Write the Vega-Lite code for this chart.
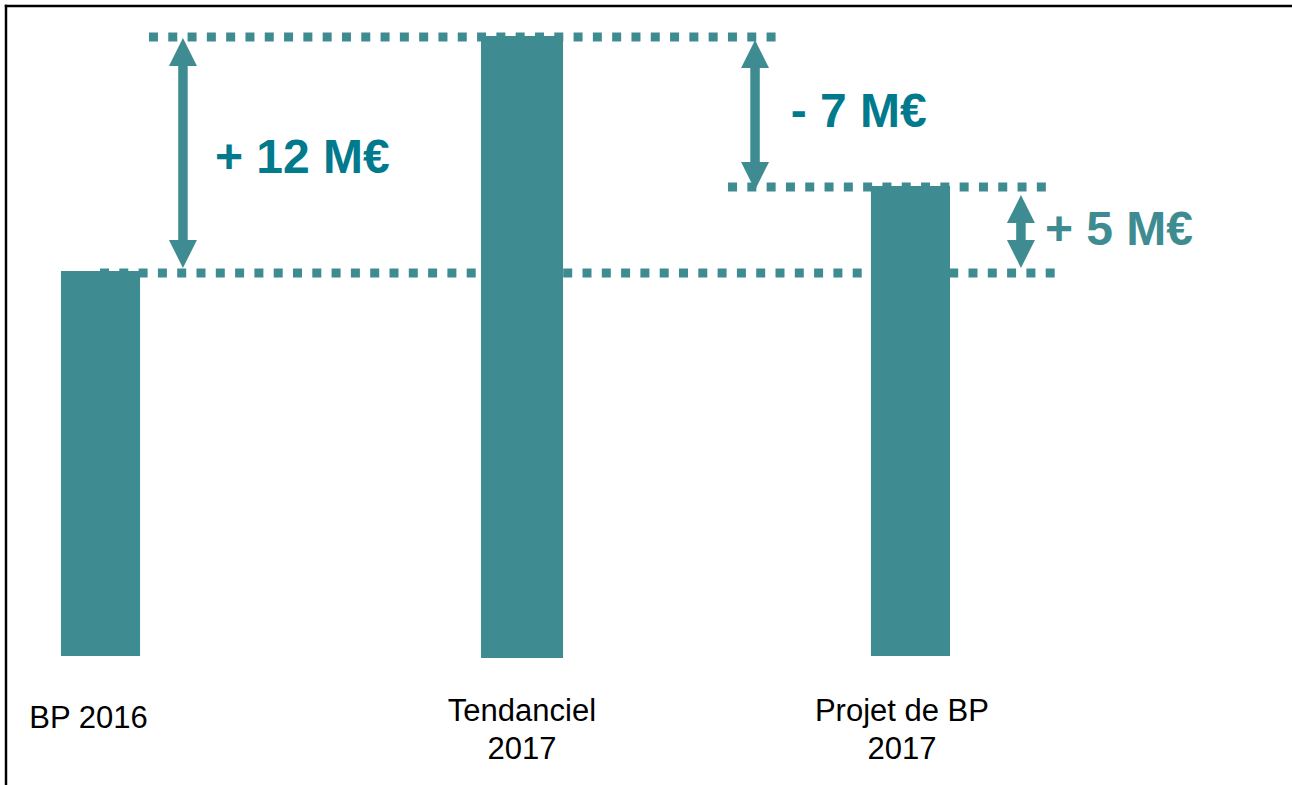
{
  "$schema": "https://vega.github.io/schema/vega-lite/v6.json",
  "autosize": {"type": "fit", "contains": "padding"},
  "width": 1292,
  "height": 785,
  "padding": 0,
  "background": "white",
  "config": {"view": {"stroke": null}},
  "datasets": {
    "bars": [
      {"label": "BP 2016", "x": 4.72, "x2": 10.84, "value": 19.25, "base": 0},
      {"label": "Tendanciel 2017", "x": 37.23, "x2": 43.58, "value": 31.0, "base": -0.1},
      {"label": "Projet de BP 2017", "x": 67.41, "x2": 73.53, "value": 23.5, "base": 0}
    ],
    "levels": [
      {"level": "Tendanciel 2017", "x": 11.53, "x2": 60.53, "y": 30.95},
      {"level": "Projet de BP 2017", "x": 56.35, "x2": 81.27, "y": 23.45},
      {"level": "BP 2016", "x": 7.74, "x2": 81.66, "y": 19.15}
    ],
    "shafts": [
      {"delta": "+12", "x": 14.16, "top": 30.2, "bottom": 20.1},
      {"delta": "-7", "x": 58.44, "top": 30.1, "bottom": 24.0},
      {"delta": "+5", "x": 79.02, "top": 22.35, "bottom": 20.1}
    ],
    "heads": [
      {"delta": "+12", "x": 14.16, "y": 30.2, "dir": "up"},
      {"delta": "+12", "x": 14.16, "y": 20.1, "dir": "down"},
      {"delta": "-7", "x": 58.44, "y": 30.1, "dir": "up"},
      {"delta": "-7", "x": 58.44, "y": 24.0, "dir": "down"},
      {"delta": "+5", "x": 79.02, "y": 22.35, "dir": "up"},
      {"delta": "+5", "x": 79.02, "y": 20.1, "dir": "down"}
    ],
    "deltas": [
      {"text": "+ 12 M€", "kind": "step", "x": 16.64, "y": 24.15},
      {"text": "- 7 M€", "kind": "step", "x": 61.2, "y": 26.45},
      {"text": "+ 5 M€", "kind": "net", "x": 80.88, "y": 20.55}
    ],
    "labels": [
      {"text": "BP 2016", "x": 6.85, "y": -3.6},
      {"text": "Tendanciel\n2017", "x": 40.4, "y": -3.25},
      {"text": "Projet de BP\n2017", "x": 69.81, "y": -3.25}
    ],
    "frame": [
      {"side": "left", "x": 0.37, "x2": 0.56, "y": 32.56, "y2": -6.45},
      {"side": "top", "x": 0.37, "x2": 100, "y": 32.56, "y2": 32.44}
    ]
  },
  "encoding": {
    "x": {"type": "quantitative", "scale": {"domain": [0, 100], "nice": false, "zero": false}, "axis": null},
    "y": {"type": "quantitative", "scale": {"domain": [-6.45, 32.8], "nice": false, "zero": false}, "axis": null}
  },
  "layer": [
    {
      "data": {"name": "bars"},
      "mark": {"type": "bar", "color": "#3e8c91", "cornerRadius": 0},
      "encoding": {
        "x": {"field": "x", "type": "quantitative"},
        "x2": {"field": "x2"},
        "y": {"field": "value", "type": "quantitative"},
        "y2": {"field": "base"}
      }
    },
    {
      "data": {"name": "levels"},
      "mark": {"type": "rule", "color": "#3e8c91", "strokeWidth": 9, "strokeDash": [9, 10.3], "strokeCap": "butt"},
      "encoding": {
        "x": {"field": "x", "type": "quantitative"},
        "x2": {"field": "x2"},
        "y": {"field": "y", "type": "quantitative"}
      }
    },
    {
      "data": {"name": "shafts"},
      "mark": {"type": "rule", "color": "#3e8c91", "strokeWidth": 9.5, "strokeCap": "butt"},
      "encoding": {
        "x": {"field": "x", "type": "quantitative"},
        "y": {"field": "top", "type": "quantitative"},
        "y2": {"field": "bottom"}
      }
    },
    {
      "data": {"name": "heads"},
      "mark": {"type": "point", "filled": true, "opacity": 1, "size": 784, "color": "#3e8c91", "strokeWidth": 0},
      "encoding": {
        "x": {"field": "x", "type": "quantitative"},
        "y": {"field": "y", "type": "quantitative"},
        "shape": {
          "field": "dir",
          "type": "nominal",
          "scale": {"domain": ["up", "down"], "range": ["M0,-1L-1,1L1,1Z", "M0,1L-1,-1L1,-1Z"]},
          "legend": null
        }
      }
    },
    {
      "data": {"name": "deltas"},
      "mark": {"type": "text", "align": "left", "baseline": "alphabetic", "font": "Liberation Sans", "fontSize": 48, "fontWeight": "bold"},
      "encoding": {
        "x": {"field": "x", "type": "quantitative"},
        "y": {"field": "y", "type": "quantitative"},
        "text": {"field": "text"},
        "color": {
          "field": "kind",
          "type": "nominal",
          "scale": {"domain": ["step", "net"], "range": ["#007a8c", "#3e8c91"]},
          "legend": null
        }
      }
    },
    {
      "data": {"name": "labels"},
      "mark": {"type": "text", "align": "center", "baseline": "alphabetic", "font": "Liberation Sans", "fontSize": 31, "color": "#000000", "lineBreak": "\n", "lineHeight": 38},
      "encoding": {
        "x": {"field": "x", "type": "quantitative"},
        "y": {"field": "y", "type": "quantitative"},
        "text": {"field": "text"}
      }
    },
    {
      "data": {"name": "frame"},
      "mark": {"type": "rect", "color": "#000000", "strokeWidth": 0},
      "encoding": {
        "x": {"field": "x", "type": "quantitative"},
        "x2": {"field": "x2"},
        "y": {"field": "y", "type": "quantitative"},
        "y2": {"field": "y2"}
      }
    }
  ]
}
